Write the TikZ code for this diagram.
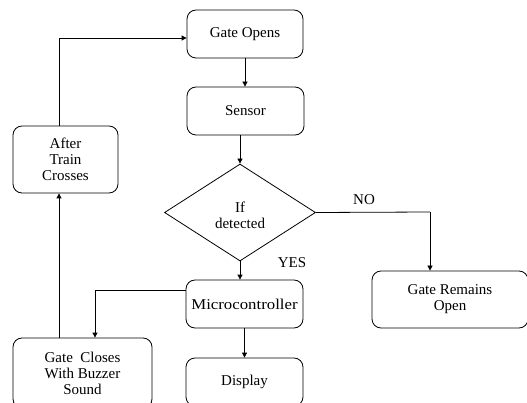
\documentclass[tikz,border=0pt]{standalone}
\usepackage{fontspec}
\setmainfont{Liberation Serif}
\usetikzlibrary{arrows.meta,shapes.geometric}
\begin{document}
\begin{tikzpicture}[x=1pt,y=-1pt,
  box/.style={draw,line width=0.8pt,rounded corners=9pt,align=center,inner sep=0pt,font=\fontsize{15}{16}\selectfont},
  lbl/.style={font=\fontsize{15}{16}\selectfont},
  arr/.style={line width=0.8pt,-{Triangle[length=5pt,width=5pt]}},
  ln/.style={line width=0.8pt}]
\useasboundingbox (0,0) rectangle (527,403);
\clip (0,0) rectangle (527,403);
\node[box,minimum width=116pt,minimum height=48pt] (open) at (245,34) {Gate Opens};
\node[box,minimum width=117pt,minimum height=48pt] (sensor) at (245.5,111) {Sensor};
\node[draw,line width=0.8pt,diamond,aspect=1.557,minimum width=151pt,minimum height=97pt,inner sep=0pt] (dec) at (240,212.5) {};
\node[align=center,font=\fontsize{15}{16}\selectfont,inner sep=0pt] (dectext) at (240,215) {If\\detected};
\node[box,minimum width=117pt,minimum height=48pt] (micro) at (244.5,304) {\scalebox{1.12}[1]{Microcontroller}};
\node[box,minimum width=117pt,minimum height=48pt] (disp) at (244.5,382) {Display};
\node[box,minimum width=156pt,minimum height=57pt] (remain) at (450,299.5) {Gate Remains\\Open};
\node[box,minimum width=105pt,minimum height=67pt] (after) at (65.5,159.5) {After\\Train\\Crosses};
\node[box,minimum width=139pt,minimum height=70pt] (closes) at (82.5,373) {Gate\ \ Closes\\With Buzzer\\Sound};
\coordinate (c1) at (59,38);
\coordinate (c2) at (430,212);
\coordinate (c3) at (95,290);
\draw[arr] (open.south) -- (open.south |- sensor.north);
\draw[arr] (sensor.south -| dec.north) -- (dec.north);
\draw[arr] (dec.south) -- (dec.south |- micro.north);
\draw[arr] (micro.south) -- (micro.south |- disp.north);
\draw[ln] (dec.east) -- (c2);
\draw[arr] (c2) -- (c2 |- remain.north);
\draw[ln] (micro.west |- c3) -- (c3);
\draw[arr] (c3) -- (c3 |- closes.north);
\draw[arr] (c1 |- closes.north) -- (c1 |- after.south);
\draw[ln] (c1 |- after.north) -- (c1);
\draw[arr] (c1) -- (c1 -| open.west);
\node[lbl] (no) at (364,200) {NO};
\node[lbl] (yes) at (292,263) {YES};
\end{tikzpicture}
\end{document}
